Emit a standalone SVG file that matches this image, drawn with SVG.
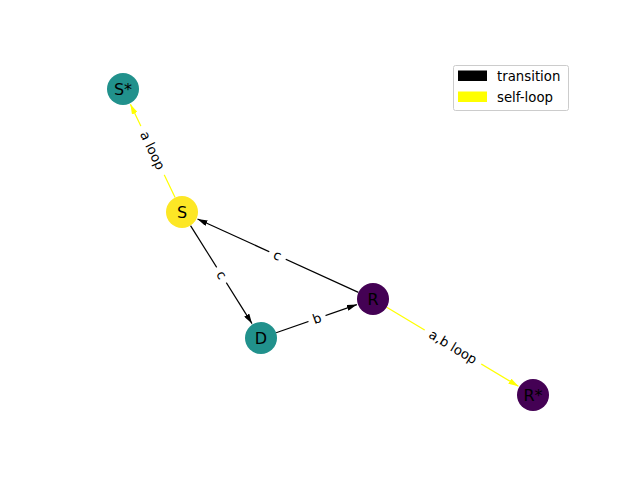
<svg xmlns="http://www.w3.org/2000/svg" width="640" height="480" viewBox="0 0 640 480">
<style>
.edge{fill:none;stroke-width:1.2}
.t{stroke:#000}
.s{stroke:#ffff00}
.lbl{font-family:"DejaVu Sans",sans-serif;font-size:13.3px;fill:#000;text-anchor:middle;dominant-baseline:central}
.nl{font-family:"DejaVu Sans",sans-serif;font-size:16px;fill:#000;text-anchor:middle;dominant-baseline:central}
.box{fill:#fff}
</style>
<defs>
<marker id="ab" viewBox="0 0 10 6" refX="10" refY="3" markerWidth="10" markerHeight="6" markerUnits="userSpaceOnUse" orient="auto"><path d="M0,0 L10,3 L0,6 Z" fill="#000"/></marker>
<marker id="ay" viewBox="0 0 10 6" refX="10" refY="3" markerWidth="10" markerHeight="6" markerUnits="userSpaceOnUse" orient="auto"><path d="M0,0 L10,3 L0,6 Z" fill="#ffff00"/></marker>
</defs>
<rect width="640" height="480" fill="#fff"/>
<g id="connectors">
<line class="edge s" x1="175.1" y1="197.6" x2="130.4" y2="104.3" marker-end="url(#ay)"/>
<line class="edge t" x1="190.5" y1="225.6" x2="252.0" y2="323.6" marker-end="url(#ab)"/>
<line class="edge t" x1="358.4" y1="292.4" x2="197.5" y2="219.0" marker-end="url(#ab)"/>
<line class="edge t" x1="276.1" y1="332.7" x2="356.9" y2="304.6" marker-end="url(#ab)"/>
<line class="edge s" x1="386.7" y1="307.2" x2="518.4" y2="386.3" marker-end="url(#ay)"/>
<g transform="translate(152.5,150.5) rotate(64.4)"><rect class="box" x="-27" y="-9" width="54" height="18" rx="3"/><text class="lbl" x="0" y="0">a loop</text></g>
<g transform="translate(221.5,275) rotate(57.9)"><rect class="box" x="-9" y="-9" width="18" height="18" rx="3"/><text class="lbl" x="0" y="0">c</text></g>
<g transform="translate(277.5,255.5) rotate(24.5)"><rect class="box" x="-9" y="-9" width="18" height="18" rx="3"/><text class="lbl" x="0" y="0">c</text></g>
<g transform="translate(317,318.5) rotate(-19.2)"><rect class="box" x="-9" y="-9" width="18" height="18" rx="3"/><text class="lbl" x="0" y="0">b</text></g>
<g transform="translate(453,347) rotate(31)"><rect class="box" x="-33" y="-9" width="66" height="18" rx="3"/><text class="lbl" x="0" y="0">a,b loop</text></g>
</g>
<g id="node-Sstar"><circle cx="123" cy="89" r="16" fill="#21918c"/><text class="nl" x="123" y="89">S*</text></g>
<g id="node-S"><circle cx="182" cy="212" r="16" fill="#fde725"/><text class="nl" x="182" y="212">S</text></g>
<g id="node-D"><circle cx="261" cy="338" r="16" fill="#21918c"/><text class="nl" x="261" y="338">D</text></g>
<g id="node-R"><circle cx="373" cy="299" r="16" fill="#440154"/><text class="nl" x="373" y="299">R</text></g>
<g id="node-Rstar"><circle cx="533" cy="395" r="16" fill="#440154"/><text class="nl" x="533" y="395">R*</text></g>
<g id="legend">
<rect x="453.5" y="65.5" width="115" height="45" rx="2" fill="#fff" stroke="#ccc" stroke-width="1"/>
<rect x="458" y="70.5" width="29" height="10.5" fill="#000"/>
<rect x="458" y="91.5" width="29" height="10.5" fill="#ffff00"/>
<text x="497" y="81" font-family="DejaVu Sans, sans-serif" font-size="13.3px" fill="#000">transition</text>
<text x="497" y="102" font-family="DejaVu Sans, sans-serif" font-size="13.3px" fill="#000">self-loop</text>
</g>
</svg>
